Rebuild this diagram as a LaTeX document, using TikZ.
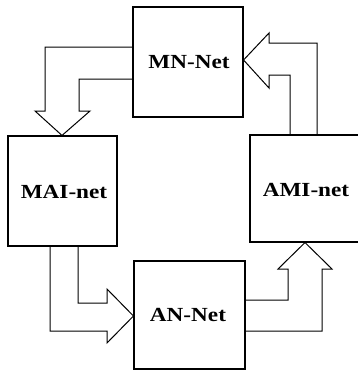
\documentclass[tikz,border=0pt]{standalone}
\usepackage{fontspec}
\setmainfont{Liberation Serif}
\newfontfamily\lblfont[FakeStretch=1.16]{Liberation Serif}
\begin{document}
\begin{tikzpicture}[x=1pt,y=-1pt,
  lbl/.style={font=\lblfont\bfseries\fontsize{20}{24}\selectfont, inner sep=0pt},
  netbox/.style={draw, line width=1.1pt, inner sep=0pt},
  blockarrow/.style={draw, line width=1pt, line join=miter}]
\useasboundingbox (0,0) rectangle (357,372);
\node[netbox, minimum width=110pt, minimum height=110pt] (mn) at (188,62) {};
\node[lbl] (mntext) at (189,62) {MN-Net};
\node[netbox, minimum width=109pt, minimum height=110pt] (mai) at (62.5,191) {};
\node[lbl] (maitext) at (64,192) {MAI-net};
\node[netbox, minimum width=111pt, minimum height=108pt] (an) at (189.5,315) {};
\node[lbl] (antext) at (188,315) {AN-Net};
\node[netbox, minimum width=110pt, minimum height=107pt] (ami) at (305,188.5) {};
\node[lbl] (amitext) at (306,190) {AMI-net};
% MN-Net -> MAI-net
\draw[blockarrow] (mn.west |- 0,47) -- (45,47) -- (45,111) -- (35,111) -- (mai.north -| 62,0) -- (90,111) -- (79,111) -- (79,79) -- (mn.west |- 0,79);
% AMI-net -> MN-Net
\draw[blockarrow] (ami.north -| 317,0) -- (317,43) -- (269,43) -- (269,33) -- (mn.east |- 0,60) -- (269,88) -- (269,75) -- (290,75) -- (ami.north -| 290,0);
% MAI-net -> AN-Net
\draw[blockarrow] (mai.south -| 50,0) -- (50,331) -- (107,331) -- (107,343) -- (an.west |- 0,316) -- (107,289) -- (107,303) -- (78,303) -- (mai.south -| 78,0);
% AN-Net -> AMI-net
\draw[blockarrow] (an.east |- 0,300) -- (288,300) -- (288,269) -- (278,269) -- (ami.south -| 305,0) -- (332,269) -- (322,269) -- (322,331) -- (an.east |- 0,331);
\end{tikzpicture}
\end{document}
